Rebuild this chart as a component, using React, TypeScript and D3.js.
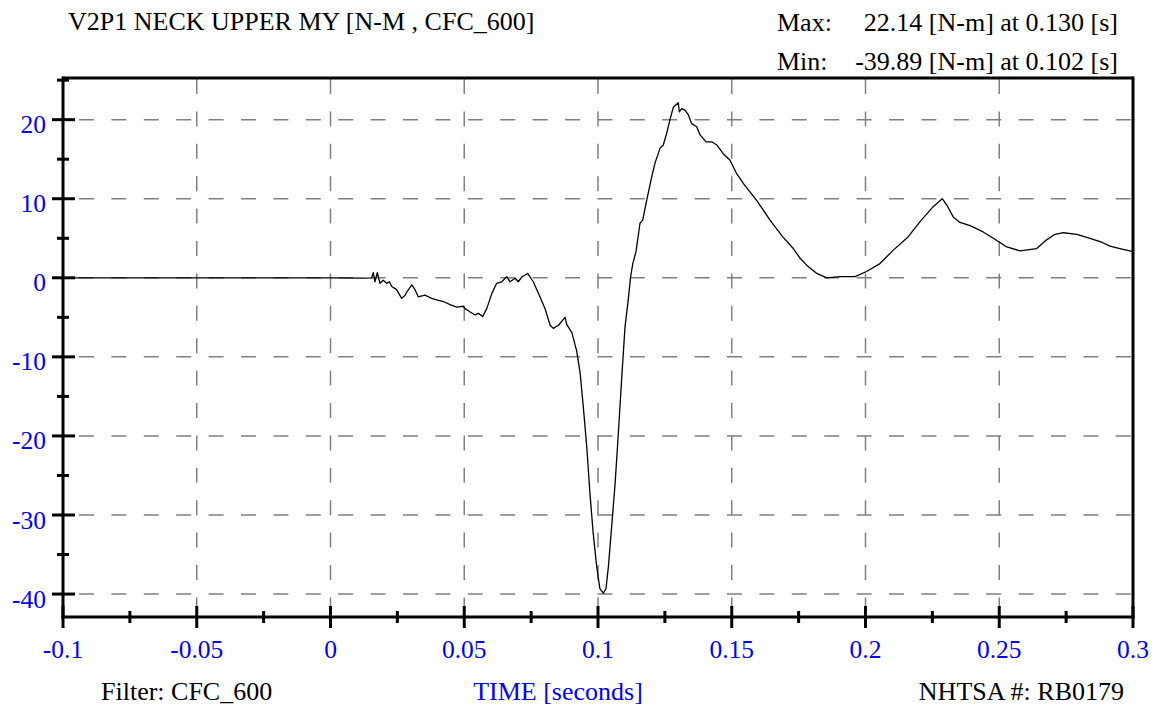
import React from "react";
import * as d3 from "d3";

// ---- data ----
const times: number[] = [
  -0.1, 0.0, 0.012, 0.0154, 0.016, 0.0166, 0.0175, 0.0185, 0.0197, 0.021,
  0.022, 0.0229, 0.0247, 0.0266, 0.0279, 0.0285, 0.0304, 0.0316, 0.0328, 0.0353,
  0.0378, 0.0397, 0.0422, 0.0447, 0.0472, 0.0496, 0.0503, 0.0521, 0.054, 0.0553,
  0.0569, 0.0584, 0.0603, 0.0621, 0.064, 0.0659, 0.0671, 0.069, 0.0702, 0.0715,
  0.0737, 0.0758, 0.0783, 0.0802, 0.0821, 0.0833, 0.0852, 0.0877, 0.0883, 0.0902,
  0.092, 0.0933, 0.0945, 0.0958, 0.097, 0.0982, 0.0995, 0.1007, 0.102, 0.103,
  0.1039, 0.1051, 0.1064, 0.1076, 0.1089, 0.1101, 0.1113, 0.1122, 0.113, 0.1142,
  0.1157, 0.1167, 0.1182, 0.1201, 0.1213, 0.1232, 0.1244, 0.1257, 0.1269, 0.1282,
  0.13, 0.1304, 0.1313, 0.1325, 0.1338, 0.135, 0.1369, 0.1381, 0.1404, 0.1425,
  0.1444, 0.1468, 0.1493, 0.1518, 0.1543, 0.1593, 0.1643, 0.169, 0.173, 0.1755,
  0.178, 0.1818, 0.1855, 0.1905, 0.1961, 0.2004, 0.2054, 0.2104, 0.216, 0.2204,
  0.2253, 0.2287, 0.2304, 0.2328, 0.2353, 0.2391, 0.244, 0.2478, 0.2528, 0.2578,
  0.264, 0.2677, 0.2708, 0.274, 0.279, 0.2839, 0.2883, 0.2914, 0.2951, 0.3,
];
const moments: number[] = [
  0, 0, -0.05, 0, 0.65, -0.5, 0.65, -0.7, -0.3, -0.7,
  -0.5, -1.1, -1.5, -2.6, -2.2, -1.8, -0.9, -1.5, -2.4, -2.2,
  -2.6, -2.8, -3.0, -3.4, -3.7, -3.6, -3.9, -4.3, -4.7, -4.5,
  -4.9, -3.9, -2.0, -0.7, -0.5, 0.15, -0.5, -0.05, -0.5, 0.1,
  0.55, -0.5, -2.4, -3.9, -6.0, -6.4, -6.0, -5.0, -5.9, -6.9,
  -9.2, -12.0, -16.3, -21.4, -27.3, -32.3, -36.5, -39.3, -39.89, -39.3,
  -36.5, -31.5, -26.0, -19.7, -12.5, -6.2, -2.8, 0.15, 1.8, 3.3,
  6.9, 7.3, 9.8, 12.8, 14.5, 16.4, 16.8, 18.3, 20.0, 21.6,
  22.14, 21.0, 21.4, 21.2, 20.6, 19.5, 19.1, 18.1, 17.2, 17.2,
  16.8, 15.7, 14.9, 13.2, 11.95, 9.8, 7.3, 5.2, 3.7, 2.5,
  1.6, 0.55, 0.0, 0.15, 0.15, 0.8, 1.8, 3.5, 5.2, 7.1,
  9.0, 10.0, 9.2, 7.7, 7.0, 6.6, 5.8, 5.0, 3.9, 3.4,
  3.7, 4.8, 5.5, 5.7, 5.5, 5.0, 4.5, 4.0, 3.7, 3.3,
];

const xMajorTicks: number[] = [-0.1, -0.05, 0, 0.05, 0.1, 0.15, 0.2, 0.25, 0.3];
const xTickLabels: string[] = ["-0.1", "-0.05", "0", "0.05", "0.1", "0.15", "0.2", "0.25", "0.3"];
const xMinorTicks: number[] = [-0.075, -0.025, 0.025, 0.075, 0.125, 0.175, 0.225, 0.275];
const yMajorTicks: number[] = [20, 10, 0, -10, -20, -30, -40];
const yTickLabels: string[] = ["20", "10", "0", "-10", "-20", "-30", "-40"];
const yMinorTicks: number[] = [25, 15, 5, -5, -15, -25, -35];

const titleText = "V2P1 NECK UPPER MY [N-M , CFC_600]";
const maxLabel = "Max:";
const maxText = "22.14 [N-m] at 0.130 [s]";
const minLabel = "Min:";
const minText = "-39.89 [N-m] at 0.102 [s]";
const filterText = "Filter: CFC_600";
const xAxisTitle = "TIME [seconds]";
const idText = "NHTSA #: RB0179";

const FONT = "'Liberation Serif', 'Times New Roman', serif";

export default function App() {
  const W = 1157;
  const H = 709;
  const left = 63, right = 1133, top = 78, bottom = 617;
  const x = d3.scaleLinear().domain([-0.1, 0.3]).range([left, right]);
  const y = d3.scaleLinear().domain([-42.9, 25.27]).range([bottom, top]);

  const pts: [number, number][] = times.map((t, i) => [t, moments[i]]);
  const line = d3
    .line<[number, number]>()
    .x((d) => x(d[0]))
    .y((d) => y(d[1]))
    .curve(d3.curveLinear);

  const gridColor = "#808080";
  const blue = "#0000ff";
  const FS = 26;
  const TFS = 25.5;

  return (
    <svg
      width={W}
      height={H}
      style={{ position: "absolute", left: 0, top: 0, display: "block", background: "#fff" }}
    >
      <rect x={0} y={0} width={W} height={H} fill="#fff" />
      {/* grid */}
      {yMajorTicks.map((v) => (
        <line
          key={"hg" + v}
          x1={left}
          x2={right}
          y1={y(v)}
          y2={y(v)}
          stroke={gridColor}
          strokeWidth={1.5}
          strokeDasharray="15 17.4"
          strokeDashoffset={16.4}
        />
      ))}
      {xMajorTicks.slice(1, -1).map((v) => (
        <line
          key={"vg" + v}
          x1={x(v)}
          x2={x(v)}
          y1={top + 1}
          y2={bottom}
          stroke={gridColor}
          strokeWidth={1.5}
          strokeDasharray="15 17.4"
        />
      ))}
      {/* data */}
      <path d={line(pts) || ""} fill="none" stroke="#000" strokeWidth={1.3} strokeLinejoin="round" />
      {/* frame */}
      <line x1={left} x2={right} y1={top} y2={top} stroke="#000" strokeWidth={3} />
      <line x1={right} x2={right} y1={top - 1.5} y2={bottom + 1.5} stroke="#000" strokeWidth={3} />
      <line x1={left} x2={left} y1={top - 1.5} y2={bottom + 1.5} stroke="#000" strokeWidth={3} />
      <line x1={left - 1.5} x2={right + 1.5} y1={bottom} y2={bottom} stroke="#000" strokeWidth={3} />
      {/* y ticks */}
      {yMajorTicks.map((v) => (
        <line key={"yt" + v} x1={left - 11} x2={left + 12} y1={y(v)} y2={y(v)} stroke="#000" strokeWidth={3} />
      ))}
      {yMinorTicks.map((v) => (
        <line key={"ym" + v} x1={left - 6} x2={left + 6} y1={y(v)} y2={y(v)} stroke="#000" strokeWidth={3} />
      ))}
      {/* x ticks */}
      {xMajorTicks.map((v) => (
        <line key={"xt" + v} x1={x(v)} x2={x(v)} y1={bottom - 11} y2={bottom + 11} stroke="#000" strokeWidth={3} />
      ))}
      {xMinorTicks.map((v) => (
        <line key={"xm" + v} x1={x(v)} x2={x(v)} y1={bottom - 6} y2={bottom + 6} stroke="#000" strokeWidth={3} />
      ))}
      {/* tick labels */}
      {yMajorTicks.map((v, i) => (
        <text
          key={"yl" + v}
          x={46}
          y={y(v) + 13.5}
          textAnchor="end"
          fontFamily={FONT}
          fontSize={TFS}
          fill={blue}
        >
          {yTickLabels[i]}
        </text>
      ))}
      {xMajorTicks.map((v, i) => (
        <text
          key={"xl" + v}
          x={x(v)}
          y={658}
          textAnchor="middle"
          fontFamily={FONT}
          fontSize={TFS}
          fill={blue}
        >
          {xTickLabels[i]}
        </text>
      ))}
      {/* header */}
      <text x={68} y={30} fontFamily={FONT} fontSize={FS} fill="#000">
        {titleText}
      </text>
      <text x={777} y={31} fontFamily={FONT} fontSize={FS} fill="#000">
        {maxLabel}
      </text>
      <text x={1118} y={31} textAnchor="end" fontFamily={FONT} fontSize={FS} fill="#000">
        {maxText}
      </text>
      <text x={777} y={70} fontFamily={FONT} fontSize={FS} fill="#000">
        {minLabel}
      </text>
      <text x={1118} y={70} textAnchor="end" fontFamily={FONT} fontSize={FS} fill="#000">
        {minText}
      </text>
      {/* footer */}
      <text x={101} y={700} fontFamily={FONT} fontSize={FS} fill="#000">
        {filterText}
      </text>
      <text x={558} y={700} textAnchor="middle" fontFamily={FONT} fontSize={FS} fill={blue}>
        {xAxisTitle}
      </text>
      <text x={1124} y={700} textAnchor="end" fontFamily={FONT} fontSize={FS} fill="#000">
        {idText}
      </text>
    </svg>
  );
}
